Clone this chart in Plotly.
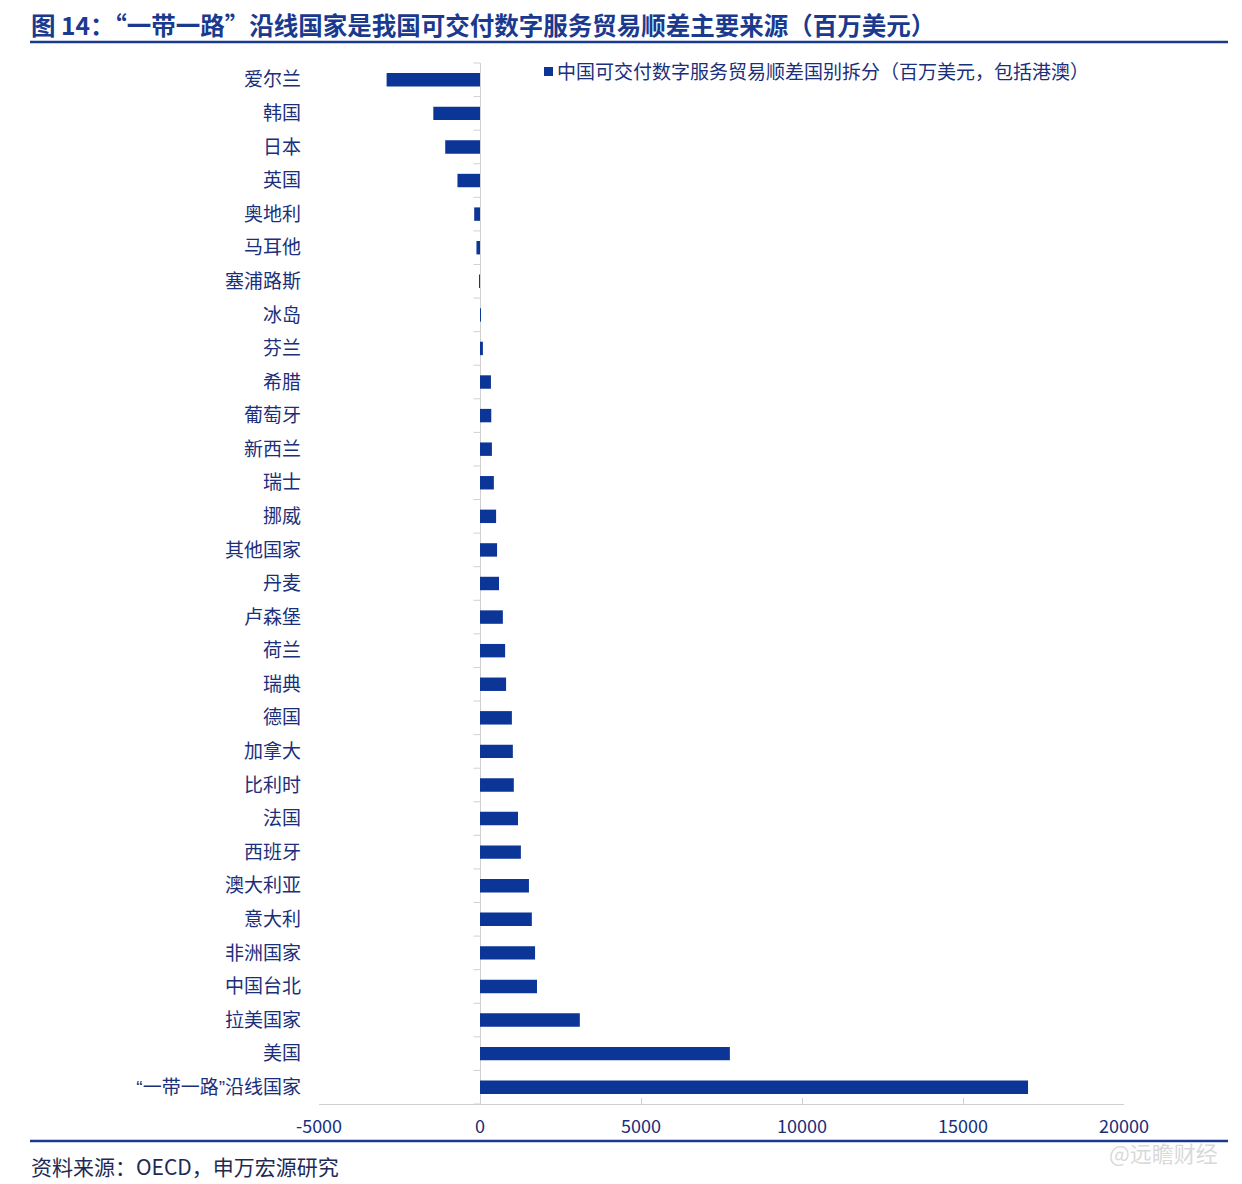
import plotly.graph_objects as go

categories = ["爱尔兰", "韩国", "日本", "英国", "奥地利", "马耳他", "塞浦路斯", "冰岛", "芬兰",
              "希腊", "葡萄牙", "新西兰", "瑞士", "挪威", "其他国家", "丹麦", "卢森堡", "荷兰",
              "瑞典", "德国", "加拿大", "比利时", "法国", "西班牙", "澳大利亚", "意大利",
              "非洲国家", "中国台北", "拉美国家", "美国", "“一带一路”沿线国家"]
values = [-2900, -1450, -1080, -700, -180, -110, -15, 30, 90,
          340, 350, 370, 430, 500, 530, 590, 710, 780,
          810, 990, 1020, 1050, 1180, 1270, 1520, 1610,
          1710, 1770, 3100, 7760, 17020]
x_ticks = [-5000, 0, 5000, 10000, 15000, 20000]

series_name = "中国可交付数字服务贸易顺差国别拆分（百万美元，包括港澳）"
title_text = "图 14：“一带一路”沿线国家是我国可交付数字服务贸易顺差主要来源（百万美元）"
source_text = "资料来源：OECD，申万宏源研究"

BAR = "#0B3597"
NAVY = "#1B2F7A"
FONT = "Noto Sans CJK SC"

L, T, PW, PH = 319, 63, 805, 1041


def px(x):
    return (x - L) / PW


def py(y):
    return 1 - (y - T) / PH


def narrow_quotes(s):
    span = '<span style="font-family:Liberation Sans">{}</span>'
    return s.replace("“", span.format("“")).replace("”", span.format("”"))


fig = go.Figure()
fig.add_trace(go.Bar(
    y=categories, x=values, orientation="h",
    marker=dict(color=BAR, line=dict(width=0)),
    name=series_name, showlegend=False,
))

fig.update_layout(
    width=1242, height=1184,
    paper_bgcolor="white", plot_bgcolor="white",
    margin=dict(l=L, r=1242 - L - PW, t=T, b=1184 - T - PH),
    bargap=0.6,
    font=dict(family=FONT, color=NAVY, size=19),
    showlegend=False,
    xaxis=dict(range=[-5000, 20000], tickvals=x_ticks,
               ticktext=[str(v) for v in x_ticks],
               showgrid=False, zeroline=True, zerolinecolor="#D0D0D0", zerolinewidth=1,
               showline=True, linecolor="#D0D0D0", linewidth=1,
               ticks="inside", ticklen=6, tickcolor="#D0D0D0",
               ticklabelstandoff=6,
               tickfont=dict(size=18, color=NAVY, family=FONT),
               fixedrange=True),
    yaxis=dict(autorange="reversed", showgrid=False, showline=False,
               tickmode="array", tickvals=categories,
               ticktext=[narrow_quotes(c) for c in categories],
               ticks="", ticklabelstandoff=17, fixedrange=True,
               tickfont=dict(size=19, color=NAVY, family=FONT)),
)

# category boundary tick marks at the zero line
n = len(categories)
for i in range(n + 1):
    fig.add_shape(type="line", xref="x", yref="paper",
                  x0=-200, x1=0, y0=i / n, y1=i / n,
                  line=dict(color="#D0D0D0", width=1))

# legend (square marker + series name)
fig.add_shape(type="rect", xref="paper", yref="paper",
              x0=px(544), x1=px(553), y0=py(76), y1=py(67),
              fillcolor=BAR, line=dict(width=0))
fig.add_annotation(text=series_name, xref="paper", yref="paper",
                   x=px(555), y=py(71), xanchor="left", yanchor="middle",
                   showarrow=False, font=dict(size=19, color=NAVY, family=FONT))

# title and rules
fig.add_annotation(text="<b>" + title_text + "</b>", xref="paper", yref="paper",
                   x=px(29), y=py(25), xanchor="left", yanchor="middle",
                   showarrow=False, font=dict(size=24.5, color="#1A3A8F", family=FONT))
fig.add_shape(type="line", xref="paper", yref="paper",
              x0=px(30), x1=px(1228), y0=py(42), y1=py(42),
              line=dict(color="#1A3A8F", width=2.5))
fig.add_shape(type="line", xref="paper", yref="paper",
              x0=px(30), x1=px(1228), y0=py(1141), y1=py(1141),
              line=dict(color="#1A3A8F", width=2.5))
fig.add_annotation(text=source_text, xref="paper", yref="paper",
                   x=px(29), y=py(1166), xanchor="left", yanchor="middle",
                   showarrow=False, font=dict(size=21, color="#1E2A55", family=FONT))
fig.add_annotation(text="@远瞻财经", xref="paper", yref="paper",
                   x=px(1220), y=py(1152), xanchor="right", yanchor="middle",
                   showarrow=False, font=dict(size=22, color="rgba(200,200,200,0.7)", family=FONT))

fig.write_html("out.html", config={"displayModeBar": False},
               post_script="document.body.style.margin='0';")
